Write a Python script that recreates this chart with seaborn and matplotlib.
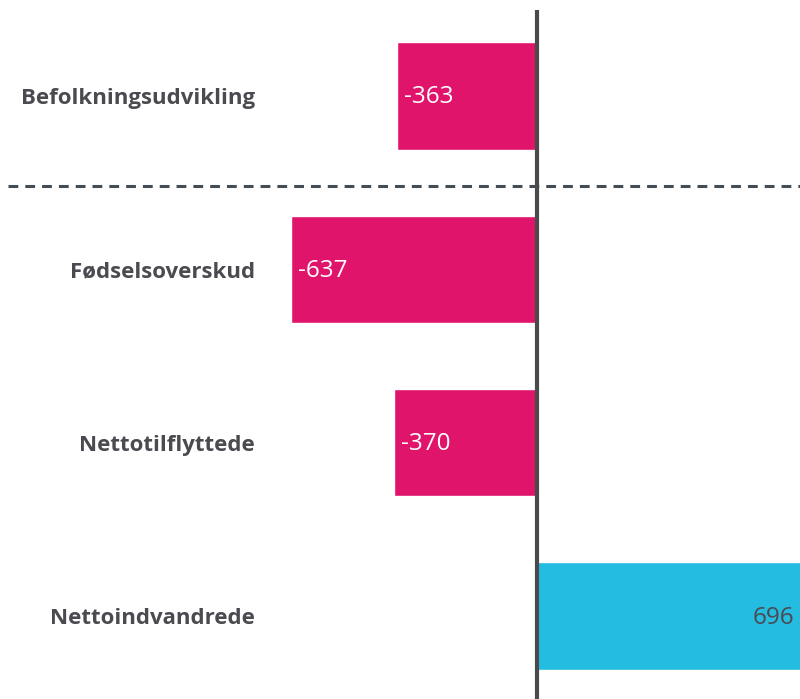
import matplotlib
matplotlib.use("Agg")
import pandas as pd
import seaborn as sns
import matplotlib.pyplot as plt

categories = ["Befolkningsudvikling", "Fødselsoverskud", "Nettotilflyttede", "Nettoindvandrede"]
values = [-363, -637, -370, 696]

PINK = "#E0146A"
BLUE = "#25BCE2"
DARK = "#4a4a50"

df = pd.DataFrame({"Kategori": categories, "Værdi": values})
colors = [PINK if v < 0 else BLUE for v in values]

sns.set_style("white")
plt.rcParams["font.family"] = ["Open Sans", "DejaVu Sans"]

fig = plt.figure(figsize=(8, 6.99), dpi=100)
# axes placed in figure pixels: left 270, right 800, top 10, bottom 699
ax = fig.add_axes([270 / 800, 0, 530 / 800, 689 / 699])

sns.barplot(data=df, x="Værdi", y="Kategori", hue="Kategori", palette=colors,
            legend=False, width=0.62, saturation=1, orient="h", ax=ax)

ax.set_xlim(-692, 681)
ax.set_ylim(3.478, -0.496)

ax.axvline(0, color="#4a4a4a", lw=3, zorder=5)
ax.axhline(0.52, xmin=-262 / 530, xmax=1, color="#444c55", lw=2.2,
           ls=(0, (3.2, 2.3)), clip_on=False, zorder=4)

for i, v in enumerate(values):
    if v < 0:
        ax.annotate(str(v), xy=(v, i), xytext=(5, -1), textcoords="offset points",
                    ha="left", va="center", color="white", fontsize=17.5,
                    annotation_clip=False)
    else:
        ax.annotate(str(v), xy=(v, i), xytext=(-8, -1), textcoords="offset points",
                    ha="right", va="center", color=DARK, fontsize=17.5,
                    annotation_clip=False)

ax.set_xlabel("")
ax.set_ylabel("")
ax.set_xticks([])
ax.tick_params(axis="y", length=0, pad=11)
for lab in ax.get_yticklabels():
    lab.set_fontweight("bold")
    lab.set_fontsize(16)
    lab.set_color(DARK)
sns.despine(ax=ax, left=True, bottom=True)

fig.savefig("out.png", dpi=100)
